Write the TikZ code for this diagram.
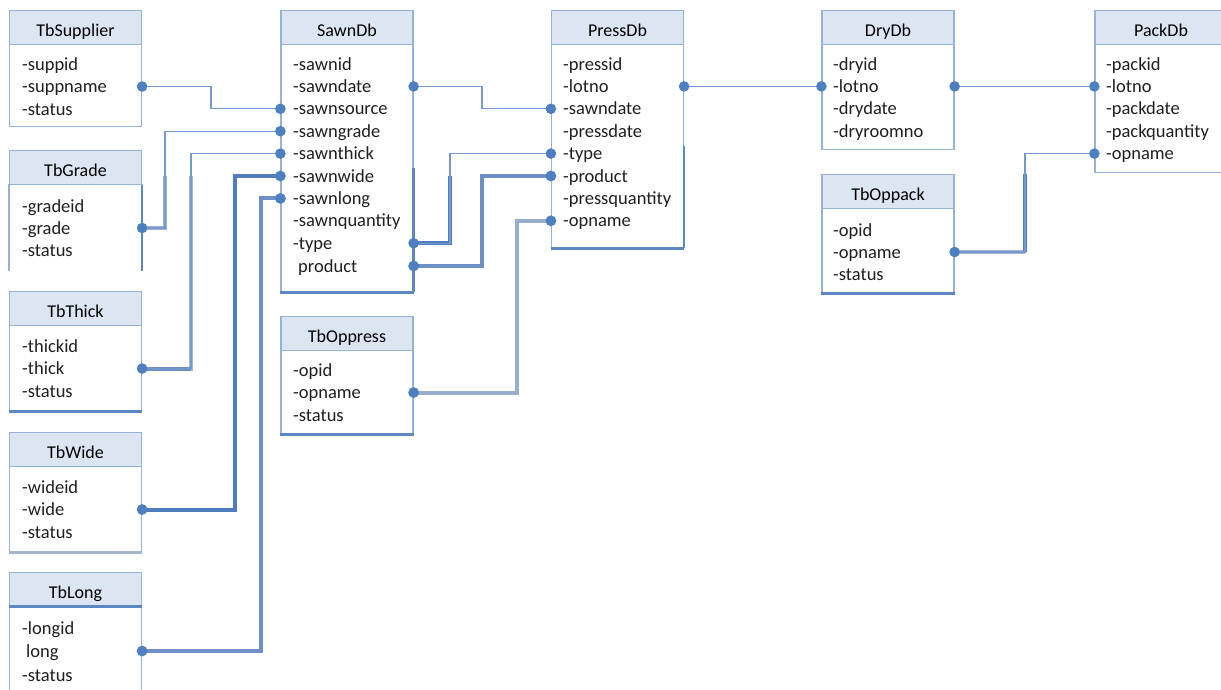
\documentclass[tikz,border=0pt]{standalone}
\usepackage{fontspec}
\setmainfont{Carlito}
\usetikzlibrary{calc, arrows.meta, positioning}
\definecolor{hdrfill}{HTML}{DCE6F2}
\definecolor{boxline}{HTML}{95B3D7}
\definecolor{boxdark}{HTML}{5B87C4}
\definecolor{linkblue}{HTML}{7399CE}
\definecolor{linkdark}{HTML}{4F7EC0}
\definecolor{linkmid}{HTML}{6F90C6}
\definecolor{linkgray}{HTML}{A4B6CF}
\definecolor{linkdot}{HTML}{4E7FC0}

\tikzset{
  hdr/.style={draw=boxline, fill=hdrfill, line width=1.2pt, minimum width=132pt,
    minimum height=34pt, anchor=north, inner sep=0, text height=17pt, text depth=0pt,
    font=\fontsize{18}{21}\selectfont},
  tbody/.style={draw=boxline, line width=1.2pt, minimum width=132pt, anchor=north, inner sep=0},
  row/.style={anchor=west, inner sep=0, text height=14pt, text depth=2pt,
    font=\fontsize{18.5}{22}\selectfont, text=black!88},
  link/.style={draw=linkblue, line width=1.3pt,
    {Circle[length=10.5pt, color=linkdot]}-{Circle[length=10.5pt, color=linkdot]},
    shorten <=-5.25pt, shorten >=-5.25pt},
  heavy/.style={line width=4pt},
  bottomline/.style={draw=boxdark, line width=3pt},
}

\begin{document}
\begin{tikzpicture}[x=1pt, y=-1pt]
    \useasboundingbox (0,0) rectangle (1221,689);

    % TbSupplier
    \node[hdr] (suppH) at (75.5,10) {TbSupplier};
    \node[tbody, minimum height=82pt] (supp) at (75.5,44) {};
    \foreach \n [count=\i from 0] in {suppid, suppname, status}
        \node[row] (supp-\n) at (22,64+22.5*\i) {-\n};

    % TbGrade (open at the bottom)
    \node[hdr] (gradeH) at (75.5,150) {TbGrade};
    \node[tbody, draw=none, minimum height=86pt] (grade) at (75.5,184) {};
    \draw[boxline, line width=1.2pt] (grade.north west) -- (grade.south west)
        (grade.north east) -- (grade.south east);
    \draw[boxdark, line width=2.5pt] (grade.east |- gradeH.south) -- (grade.south east);
    \foreach \n [count=\i from 0] in {gradeid, grade, status}
        \node[row] (grade-\n) at (22,206+22*\i) {-\n};

    % TbThick
    \node[hdr] (thickH) at (75.5,291) {TbThick};
    \node[tbody, minimum height=85pt] (thick) at (75.5,325) {};
    \draw[bottomline] (thick.south west) -- (thick.south east);
    \foreach \n [count=\i from 0] in {thickid, thick, status}
        \node[row] (thick-\n) at (22,346+22.5*\i) {-\n};

    % TbWide
    \node[hdr] (wideH) at (75.5,432) {TbWide};
    \node[tbody, minimum height=85pt] (wide) at (75.5,466) {};
    \draw[linkgray, line width=3pt] (wide.south west) -- (wide.south east);
    \foreach \n [count=\i from 0] in {wideid, wide, status}
        \node[row] (wide-\n) at (22,487+22.5*\i) {-\n};

    % TbLong
    \node[hdr] (longH) at (75.5,572) {TbLong};
    \node[tbody, minimum height=100pt] (long) at (75.5,606) {};
    \draw[bottomline] (long.north west) -- (long.north east);
    \node[row] (long-longid) at (22,628) {-longid};
    \node[row] (long-long) at (26,651) {long};
    \node[row] (long-status) at (22,675) {-status};

    % SawnDb
    \node[hdr] (sawnH) at (347,10) {SawnDb};
    \node[tbody, minimum height=247pt] (sawn) at (347,44) {};
    \draw[bottomline] (sawn.south west) -- (sawn.south east);
    \draw[boxdark, line width=2.5pt] (sawn.east |- sawn.center) -- (sawn.south east);
    \foreach \n [count=\i from 0] in {sawnid, sawndate, sawnsource, sawngrade, sawnthick,
        sawnwide, sawnlong, sawnquantity, type}
        \node[row] (sawn-\n) at (293,64+22.4*\i) {-\n};
    \node[row] (sawn-product) at (298,266) {product};

    % TbOppress
    \node[hdr] (oppressH) at (347,316) {TbOppress};
    \node[tbody, minimum height=83pt] (oppress) at (347,350) {};
    \draw[bottomline] (oppress.south west) -- (oppress.south east);
    \foreach \n [count=\i from 0] in {opid, opname, status}
        \node[row] (oppress-\n) at (293,370+22.5*\i) {-\n};

    % PressDb
    \node[hdr] (pressH) at (617.5,10) {PressDb};
    \node[tbody, minimum height=203pt] (press) at (617.5,44) {};
    \draw[bottomline] (press.south west) -- (press.south east);
    \draw[boxdark, line width=2.5pt] (press.east |- press.center) -- (press.south east);
    \foreach \n [count=\i from 0] in {pressid, lotno, sawndate, pressdate, type, product,
        pressquantity, opname}
        \node[row] (press-\n) at (563,64+22.4*\i) {-\n};

    % DryDb
    \node[hdr] (dryH) at (888,10) {DryDb};
    \node[tbody, minimum height=105pt] (dry) at (888,44) {};
    \foreach \n [count=\i from 0] in {dryid, lotno, drydate, dryroomno}
        \node[row] (dry-\n) at (833,64+22.4*\i) {-\n};

    % TbOppack
    \node[hdr] (oppackH) at (888,174) {TbOppack};
    \node[tbody, minimum height=84pt] (oppack) at (888,208) {};
    \draw[bottomline] (oppack.south west) -- (oppack.south east);
    \foreach \n [count=\i from 0] in {opid, opname, status}
        \node[row] (oppack-\n) at (833,230+22*\i) {-\n};

    % PackDb (runs past the right edge)
    \node[hdr] (packH) at (1161,10) {PackDb};
    \node[tbody, minimum height=128pt] (pack) at (1161,44) {};
    \foreach \n [count=\i from 0] in {packid, lotno, packdate, packquantity, opname}
        \node[row] (pack-\n) at (1106,64+22.4*\i) {-\n};

    % bend columns
    \coordinate (bendSupp) at (211,0);
    \coordinate (bendGrade) at (165,0);
    \coordinate (bendThick) at (191,0);
    \coordinate (bendWide) at (235,0);
    \coordinate (bendLong) at (261,0);
    \coordinate (bendDate) at (482,0);
    \coordinate (bendType) at (450,0);
    \coordinate (bendProd) at (482,0);
    \coordinate (bendOp) at (517,0);
    \coordinate (bendPack) at (1025,0);

    % heavy lower parts
    \draw[linkgray, heavy] (grade.east |- grade-grade) -| (bendGrade |- sawn-sawnwide);
    \draw[linkgray, heavy] (thick.east |- thick-thick) -| (bendThick |- sawn-sawnwide);
    \draw[linkmid, heavy] (thick.east |- thick-thick) -- (bendThick |- thick-thick);
    \draw[linkdark, heavy] (sawn.east |- sawn-type) -| (bendType |- press-product);
    \draw[linkgray, heavy] (oppack.east |- oppack-opname) -- (bendPack |- oppack-opname);
    \draw[linkdark, heavy] (bendPack |- oppack-opname) -- (bendPack |- oppackH.north);

    % links into SawnDb
    \draw[link] (supp.east |- supp-suppname) -| (bendSupp |- sawn-sawnsource)
        -- (sawn.west |- sawn-sawnsource);
    \draw[link] (grade.east |- grade-grade) -| (bendGrade |- sawn-sawngrade)
        -- (sawn.west |- sawn-sawngrade);
    \draw[link] (thick.east |- thick-thick) -| (bendThick |- sawn-sawnthick)
        -- (sawn.west |- sawn-sawnthick);
    \draw[link, heavy, draw=linkdark] (wide.east |- wide-wide) -| (bendWide |- sawn-sawnwide)
        -- (sawn.west |- sawn-sawnwide);
    \draw[link, heavy, draw=linkmid] (long.east |- long-long) -| (bendLong |- sawn-sawnlong)
        -- (sawn.west |- sawn-sawnlong);

    % links into PressDb
    \draw[link] (sawn.east |- sawn-sawndate) -| (bendDate |- press-sawndate)
        -- (press.west |- press-sawndate);
    \draw[link] (sawn.east |- sawn-type) -| (bendType |- press-type)
        -- (press.west |- press-type);
    \draw[link, heavy, draw=linkmid] (sawn.east |- sawn-product) -| (bendProd |- press-product)
        -- (press.west |- press-product);
    \draw[link, heavy, draw=linkgray!80!linkmid] (oppress.east |- oppress-opname)
        -| (bendOp |- press-opname) -- (press.west |- press-opname);

    % lot chain
    \draw[link] (press.east |- press-lotno) -- (dry.west |- dry-lotno);
    \draw[link] (dry.east |- dry-lotno) -- (pack.west |- pack-lotno);
    \draw[link] (oppack.east |- oppack-opname) -| (bendPack |- pack-opname)
        -- (pack.west |- pack-opname);
\end{tikzpicture}
\end{document}
